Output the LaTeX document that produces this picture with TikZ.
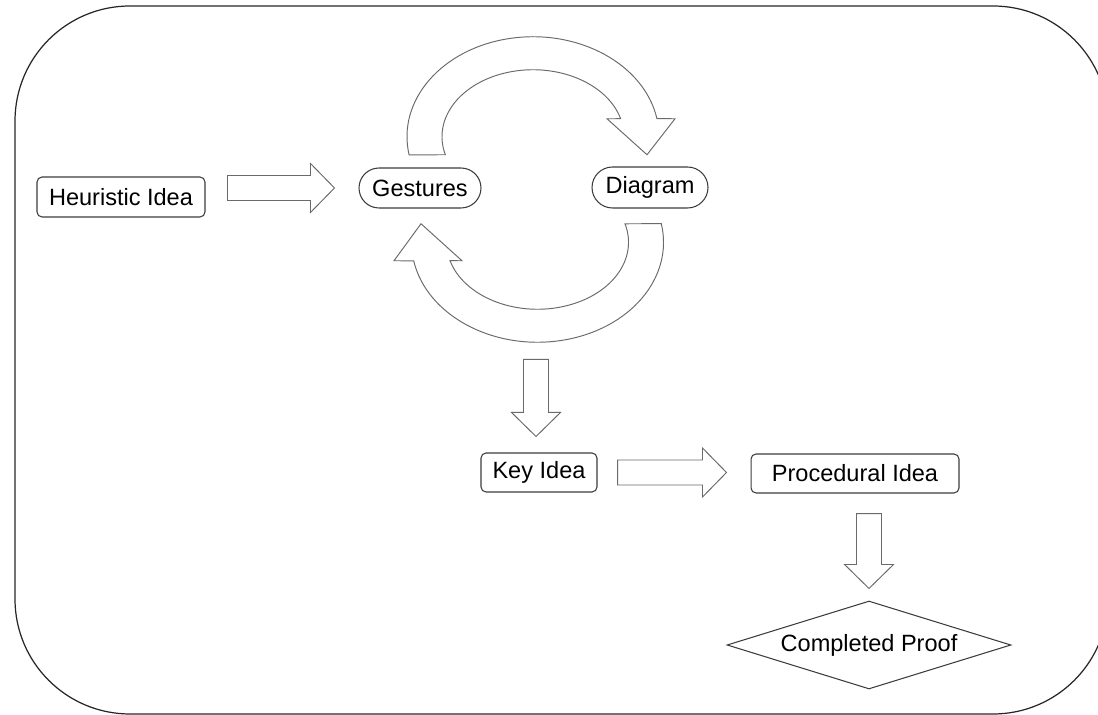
\documentclass[tikz,border=0pt]{standalone}
\usepackage{fontspec}
\setmainfont{Liberation Sans}
\usepackage{tikz}
\usetikzlibrary{calc, shapes.geometric, shapes.misc}

\definecolor{boxline}{HTML}{3C3C3C}
\definecolor{arrline}{HTML}{6A6A6A}
\tikzset{
	idea/.style={draw=boxline, line width=0.6pt, rectangle, rounded corners=0.1cm, inner sep=0pt, minimum height=0.8cm, font=\fontsize{13.4}{16}\selectfont},
	pill/.style={draw=boxline, line width=0.6pt, rounded rectangle, inner sep=0pt, minimum height=0.8cm, font=\fontsize{13.4}{16}\selectfont},
	goal/.style={draw=boxline, line width=0.6pt, diamond, aspect=3.2, inner sep=0pt, minimum width=5.68cm, minimum height=1.76cm, font=\fontsize{13.4}{16}\selectfont},
	arrline/.style={draw=arrline, line width=0.55pt, line join=miter}
}
\newcommand{\blockarrow}[2]{%
	\coordinate (h) at ($(#2)!0.48cm!(#1)$);
	\draw[arrline] ($(#1)!0.25cm!90:(#2)$) -- ($(h)!0.25cm!-90:(#1)$) -- ($(h)!0.49cm!-90:(#1)$) -- (#2)
		-- ($(h)!0.49cm!90:(#1)$) -- ($(h)!0.25cm!90:(#1)$) -- ($(#1)!0.25cm!-90:(#2)$) -- cycle;}

\begin{document}
\begin{tikzpicture}[scale=1, x=0.02cm, y=-0.02cm]
	\useasboundingbox (0,0) rectangle (1098,715);
	\clip (0,0) rectangle (1098,715);
	\draw[draw=black!85, line width=0.7pt, rounded corners=2.3cm] (15,6) rectangle (1108,714);

	\node[idea, minimum width=3.36cm] (heur) at (121,197) {Heuristic Idea};
	\node[pill, minimum width=2.44cm] (gest) at (420,188) {Gestures};
	\node[pill, minimum width=2.32cm, minimum height=0.82cm] (diag) at (650,187.5) {Diagram};
	\node[idea, minimum width=2.32cm, minimum height=0.78cm] (key) at (539,472.5) {Key Idea};
	\node[idea, minimum width=4.16cm, minimum height=0.78cm] (proc) at (855,473.5) {Procedural Idea};
	\node[goal] (proof) at (869,645) {Completed Proof};

	\coordinate (mid) at ($(gest)!0.5!(diag)$);
	\coordinate (top) at ($(mid)+(-2,-51)$);
	\coordinate (bot) at ($(mid)+(2.5,54.5)$);

	\draw[arrline] ($(top)+(169.6:126 and 100)$) arc[start angle=169.6, end angle=349.6, x radius=126, y radius=100]
		-- ($(top)+(142,-18)$) -- ($(top)+(114,18)$) -- ($(top)+(74,-18)$)
		-- ($(top)+(344.4:91 and 67)$) arc[start angle=344.4, end angle=164.4, x radius=91, y radius=67] -- cycle;
	\draw[arrline] ($(bot)+(-10.7:126 and 100)$) arc[start angle=-10.7, end angle=169.3, x radius=126, y radius=100]
		-- ($(bot)+(-143.5,18.5)$) -- ($(bot)+(-116.5,-18.5)$) -- ($(bot)+(-75.5,18.5)$)
		-- ($(bot)+(164:91 and 67)$) arc[start angle=164, end angle=-16, x radius=91, y radius=67] -- cycle;

	\coordinate (t1) at ($(heur.east |- gest.west)+(22,0)$);
	\coordinate (e1) at ($(gest.west)+(-24,0)$);
	\coordinate (t2) at ($(key.north)+(-3,-93)$);
	\coordinate (e2) at ($(key.north)+(-3,-16)$);
	\coordinate (t3) at ($(key.east)+(20,0)$);
	\coordinate (e3) at ($(key.east -| proc.west)+(-24,0)$);
	\coordinate (t4) at ($(proof.north |- proc.south)+(0,20)$);
	\coordinate (e4) at ($(proof.north)+(0,-12)$);
	\blockarrow{t1}{e1} \blockarrow{t2}{e2}
	\blockarrow{t3}{e3} \blockarrow{t4}{e4}
\end{tikzpicture}
\end{document}
